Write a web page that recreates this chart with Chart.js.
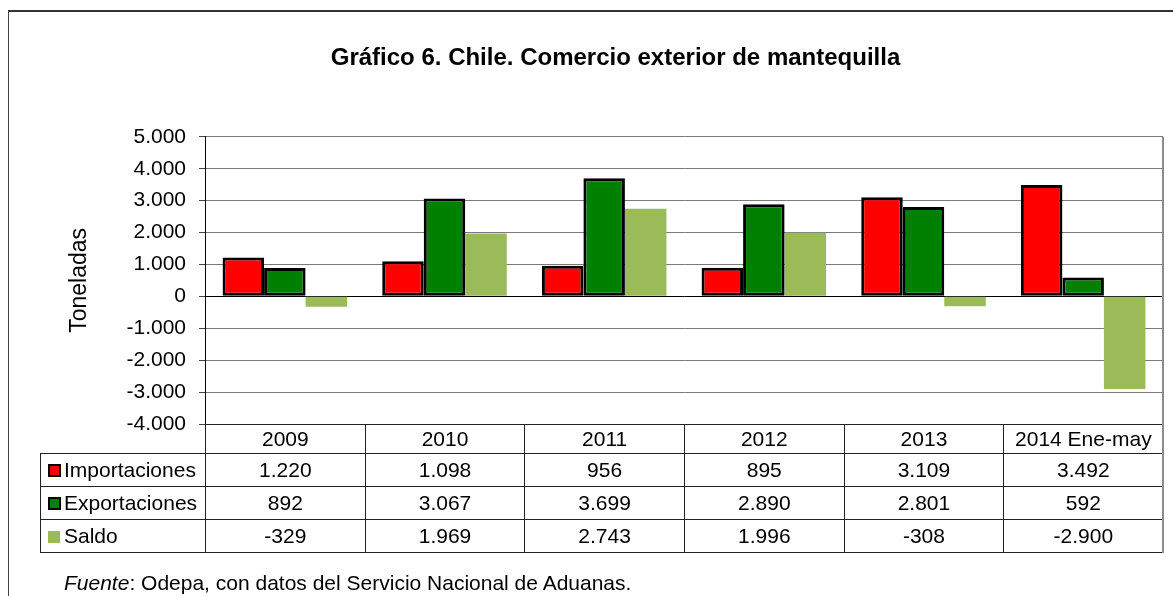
<!DOCTYPE html>
<html>
<head>
<meta charset="utf-8">
<script src="https://cdn.jsdelivr.net/npm/chart.js@4.4.1/dist/chart.umd.min.js"></script>
<style>
    body { margin: 0; background: #fff; }
    #wrap { position: relative; width: 1173px; height: 596px; overflow: hidden; font-family: 'Liberation Sans', Arial, sans-serif; }
    #frame { position: absolute; left: 8px; top: 10px; width: 1300px; height: 700px; border-left: 1px solid #444; border-top: 2px solid #333; }
    #chart { position: absolute; left: 0; top: 0; }
    #dataTable { position: absolute; border-collapse: collapse; table-layout: fixed; font-size: 21px; color: #000; }
    #dataTable td { padding: 0; border: 1px solid #222; text-align: center; white-space: nowrap; overflow: hidden; }
    #dataTable tr.head td { height: 28px; }
    #dataTable tr.row td { height: 32px; }
    #dataTable td.corner { border: none; }
    #dataTable td.name { text-align: left; padding-left: 7px; }
    #dataTable td.last { border-right: 2px solid #8c8c8c; }
    .key { display: inline-block; width: 9px; height: 9px; border: 2px solid #000; margin-right: 3px; vertical-align: 0px; }
    .key.flat { width: 12px; height: 12px; border: none; margin-right: 4px; }
    #source { position: absolute; left: 64px; top: 571px; font-size: 21px; line-height: 24px; color: #000; }
</style>
</head>
<body>
<div id="wrap">
    <div id="frame"></div>
    <canvas id="chart" width="1173" height="596"></canvas>
    <table id="dataTable"></table>
    <div id="source"><i>Fuente</i>: Odepa, con datos del Servicio Nacional de Aduanas.</div>
</div>
<script>
// Categories and series (toneladas)
const years = ['2009', '2010', '2011', '2012', '2013', '2014 Ene-may'];
const importaciones = [1220, 1098, 956, 895, 3109, 3492];
const exportaciones = [892, 3067, 3699, 2890, 2801, 592];
const saldo = [-329, 1969, 2743, 1996, -308, -2900];

// Y axis range
const yMin = -4000;
const yMax = 5000;
const yStep = 1000;

// Thousands with a dot, like the source
const formatNumber = (num) => {
    return num.toString().replace(/\B(?=(\d{3})+(?!\d))/g, '.');
};

const seriesInfo = [
    { label: 'Importaciones', data: importaciones, color: '#ff0000', border: true },
    { label: 'Exportaciones', data: exportaciones, color: '#008000', border: true },
    { label: 'Saldo', data: saldo, color: '#9bbb59', border: false }
];

Chart.defaults.font.family = "'Liberation Sans', Arial, sans-serif";
Chart.defaults.color = '#000';

// Draws the grey right edge of the plot area
const plotFrame = {
    id: 'plotFrame',
    afterDraw(chart) {
        const { ctx, chartArea } = chart;
        ctx.save();
        ctx.strokeStyle = '#8c8c8c';
        ctx.lineWidth = 2;
        ctx.beginPath();
        ctx.moveTo(chartArea.right, chartArea.top);
        ctx.lineTo(chartArea.right, chartArea.bottom);
        ctx.stroke();
        ctx.restore();
    }
};

const ctx = document.getElementById('chart').getContext('2d');

const chart = new Chart(ctx, {
    type: 'bar',
    data: {
        labels: years,
        datasets: seriesInfo.map(s => ({
            label: s.label,
            data: s.data,
            backgroundColor: s.color,
            borderColor: '#000',
            borderWidth: s.border ? 3 : 0,
            borderSkipped: false,
            categoryPercentage: 0.78,
            barPercentage: 1.0
        }))
    },
    options: {
        responsive: false,
        animation: false,
        devicePixelRatio: 1,
        layout: {
            padding: { top: 0, left: 68, right: 10, bottom: 172 }
        },
        plugins: {
            legend: { display: false },
            tooltip: { enabled: false },
            title: {
                display: true,
                text: 'Gráfico 6. Chile. Comercio exterior de mantequilla',
                color: '#000',
                font: { size: 24, weight: 'bold' },
                padding: { top: 44, bottom: 64 }
            }
        },
        scales: {
            x: {
                display: false
            },
            y: {
                min: yMin,
                max: yMax,
                afterFit(scale) {
                    scale.width = 137;
                },
                ticks: {
                    stepSize: yStep,
                    padding: 13,
                    color: '#000',
                    font: { size: 21 },
                    callback: (value) => formatNumber(value)
                },
                grid: {
                    color: (c) => (c.tick && (c.tick.value === 0 || c.tick.value === yMin)) ? '#000' : '#7a7a7a',
                    lineWidth: 1,
                    tickLength: 6,
                    tickColor: '#444'
                },
                border: { display: true, color: '#000', width: 1 },
                title: {
                    display: true,
                    text: 'Toneladas',
                    color: '#000',
                    font: { size: 23, lineHeight: 1 },
                    padding: { top: 0, bottom: 0 }
                }
            }
        }
    },
    plugins: [plotFrame]
});

// Data table under the plot, aligned with the category columns
const table = document.getElementById('dataTable');
const area = chart.chartArea;
const colW = (area.right - area.left) / years.length;
const nameW = 165;

let html = '<colgroup><col style="width:' + nameW + 'px">';
years.forEach(() => { html += '<col style="width:' + colW + 'px">'; });
html += '</colgroup>';
html += '<tr class="head"><td class="corner"></td>';
years.forEach((y, i) => {
    html += '<td' + (i === years.length - 1 ? ' class="last"' : '') + '>' + y + '</td>';
});
html += '</tr>';
seriesInfo.forEach(s => {
    const key = s.border
        ? '<span class="key" style="background:' + s.color + '"></span>'
        : '<span class="key flat" style="background:' + s.color + '"></span>';
    html += '<tr class="row"><td class="name">' + key + s.label + '</td>';
    s.data.forEach((v, i) => {
        html += '<td' + (i === s.data.length - 1 ? ' class="last"' : '') + '>' + formatNumber(v) + '</td>';
    });
    html += '</tr>';
});
table.innerHTML = html;
table.style.left = (area.left - nameW) + 'px';
table.style.top = area.bottom + 'px';
table.style.width = (nameW + colW * years.length) + 'px';
</script>
</body>
</html>
